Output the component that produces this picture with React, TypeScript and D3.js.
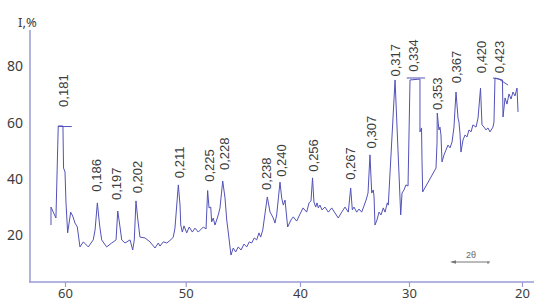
import { useEffect, useRef } from "react";
import * as d3 from "d3";

const width = 534;
const height = 302;
const axisLeftX = 30;
const axisBottomY = 282;
const axisTopY = 30;

// diffraction pattern, 2θ (deg) and relative intensity I (%)
const twoTheta = [
  61.16, 61.16, 60.75, 60.56, 60.17, 60.12, 60.0, 59.92, 59.78, 59.53, 59.36, 59.17, 58.98, 58.76, 58.48,
  58.07, 57.66, 57.51, 57.32, 57.16, 57.1, 56.96, 56.55, 56.13, 55.77, 55.63, 55.5, 55.3, 55.03, 54.61,
  54.39, 54.26, 54.12, 53.98, 53.79, 53.37, 52.96, 52.54, 52.27, 52.13, 51.86, 51.57, 51.24, 51.03, 50.89,
  50.61, 50.47, 50.41, 50.28, 50.14, 49.91, 49.69, 49.42, 49.19, 48.9, 48.46, 48.22, 48.08, 47.96, 47.81,
  47.73, 47.59, 47.44, 47.29, 47.15, 47.0, 46.76, 46.56, 46.41, 46.27, 46.04, 45.84, 45.63, 45.4, 45.16,
  44.9, 44.66, 44.44, 44.23, 44.0, 43.79, 43.59, 43.44, 43.26, 42.86, 42.62, 42.48, 42.34, 42.19, 42.04,
  41.75, 41.6, 41.46, 41.31, 41.08, 40.79, 40.59, 40.29, 40.0, 39.72, 39.39, 39.17, 38.99, 38.85, 38.72,
  38.56, 38.44, 38.32, 38.17, 37.98, 37.71, 37.4, 37.09, 36.79, 36.49, 36.17, 35.87, 35.57, 35.35, 35.2,
  35.05, 34.8, 34.59, 34.34, 34.13, 33.94, 33.76, 33.58, 33.42, 33.28, 33.21, 33.12, 32.94, 32.75, 32.57,
  32.36, 32.2, 31.99, 31.9, 31.28, 30.76, 30.64, 30.46, 30.28, 30.09, 29.91, 29.03, 29.03, 28.89, 28.85,
  28.79, 27.61, 27.52, 27.5, 27.35, 27.26, 27.17, 27.08, 26.9, 26.73, 26.55, 26.37, 26.19, 26.02, 25.84,
  25.66, 25.58, 25.49, 25.4, 25.22, 25.04, 24.87, 24.69, 24.51, 24.34, 24.07, 23.89, 23.67, 23.54, 23.36,
  23.19, 23.01, 22.83, 22.57, 22.48, 22.39, 21.73, 21.68, 21.5, 21.33, 21.15, 20.97, 20.8, 20.62, 20.44,
  20.35,
];

const intensity = [
  23.5, 29.9, 26.0, 58.8, 58.8, 43.8, 42.4, 31.7, 20.7, 28.1, 26.7, 24.2, 22.8, 15.7, 17.5,
  15.7, 18.2, 21.7, 31.4, 24.6, 22.4, 18.2, 15.7, 17.1, 18.2, 28.5, 24.6, 18.2, 17.1, 18.2,
  14.6, 18.2, 32.1, 26.0, 19.2, 18.9, 17.5, 15.3, 17.1, 16.0, 17.5, 17.1, 18.2, 19.2, 22.4,
  37.8, 30.6, 23.5, 21.0, 23.2, 20.7, 22.8, 21.0, 22.4, 21.0, 22.8, 22.1, 35.8, 29.6, 29.9,
  24.6, 26.0, 23.5, 25.3, 27.1, 29.6, 39.2, 33.1, 25.3, 20.7, 12.8, 15.3, 13.9, 15.7, 14.6,
  16.7, 15.7, 17.5, 17.1, 18.9, 18.2, 20.7, 19.2, 21.7, 33.5, 28.1, 27.1, 26.0, 24.2, 27.1,
  38.8, 33.1, 30.6, 32.4, 22.8, 25.3, 26.4, 24.9, 27.4, 29.6, 28.1, 31.4, 32.1, 40.3, 31.7,
  29.9, 31.4, 29.6, 30.6, 28.9, 29.9, 28.1, 29.6, 27.8, 26.0, 28.1, 29.9, 28.1, 36.7, 28.9,
  29.9, 28.1, 29.2, 28.1, 30.3, 32.4, 34.9, 48.5, 34.9, 36.0, 33.8, 23.5, 25.3, 28.1, 27.1,
  29.6, 28.1, 31.4, 30.6, 75.2, 27.1, 34.9, 36.0, 37.8, 37.4, 75.2, 75.5, 56.7, 58.1, 46.7,
  35.3, 43.8, 52.7, 63.4, 57.4, 58.4, 55.6, 46.0, 48.5, 50.2, 52.0, 51.0, 53.1, 58.4, 70.9,
  61.6, 60.2, 56.3, 49.5, 53.8, 55.6, 54.9, 57.4, 56.7, 59.2, 58.4, 61.6, 72.3, 59.2, 58.4,
  57.4, 58.1, 56.7, 58.4, 60.2, 75.9, 75.2, 62.0, 68.8, 66.6, 70.2, 68.4, 70.9, 69.5, 72.3,
  63.8,
];

// off-scale peak markers (bars over truncated peaks)
const caps = [
  { twoTheta: [60.56, 59.44], intensity: [58.6, 58.6] },
  { twoTheta: [30.21, 28.58], intensity: [75.9, 75.9] },
  { twoTheta: [22.57, 22.04, 21.24], intensity: [75.9, 75.5, 73.4] },
];

// interplanar spacings d (nm) written above peaks
const dLabels = ["0,181", "0,186", "0,197", "0,202", "0,211", "0,225", "0,228", "0,238", "0,240",
  "0,256", "0,267", "0,307", "0,317", "0,334", "0,353", "0,367", "0,420", "0,423"];
const dTwoTheta = [60.17, 57.37, 55.72, 53.99, 50.56, 47.96, 46.65, 42.91, 41.6,
  38.78, 35.34, 33.42, 31.28, 29.65, 27.48, 25.84, 23.57, 22.04];
const dLevel = [65.6, 35.4, 32.4, 34.8, 40.2, 38.9, 43.1, 36.0, 40.7,
  42.5, 39.6, 50.8, 76.4, 78.1, 64.5, 74.0, 77.6, 77.6];

const xTicks = [60, 50, 40, 30, 20];
const yTicks = [80, 60, 40, 20];

const lineColor = "#5252b8";
const axisColor = "#9a9ad6";
const textColor = "#3c3c3c";

// the printed 2θ axis is slightly uneven, so map tick by tick
const xScale = d3.scaleLinear().domain(xTicks).range([65, 185.7, 300, 409, 522]);
const yScale = d3.scaleLinear().domain([3.2, 93]).range([axisBottomY, axisTopY]);

export default function App() {
  const xAxisRef = useRef<SVGGElement>(null);
  const yAxisRef = useRef<SVGGElement>(null);

  const line = d3
    .line<number>()
    .x((_, i) => xScale(twoTheta[i]))
    .y((_, i) => yScale(intensity[i]));

  useEffect(() => {
    const xAxis = d3.axisBottom(xScale).tickValues(xTicks).tickSize(5).tickPadding(2).tickFormat(d3.format("d"));
    const gx = d3.select(xAxisRef.current!).call(xAxis);
    gx.select(".domain").remove();
    gx.selectAll(".tick line").attr("stroke", axisColor).attr("stroke-width", 1.2);
    gx.selectAll(".tick text")
      .attr("fill", textColor)
      .attr("font-size", 13)
      .attr("font-family", "'Noto Sans', sans-serif");

    const yAxis = d3.axisLeft(yScale).tickValues(yTicks).tickSize(0).tickPadding(7);
    const gy = d3.select(yAxisRef.current!).call(yAxis);
    gy.select(".domain").remove();
    gy.selectAll(".tick text")
      .attr("fill", textColor)
      .attr("font-size", 14)
      .attr("font-family", "'Noto Sans', sans-serif");
  }, []);

  return (
    <div style={{ position: "absolute", left: 0, top: 0 }}>
      <svg width={width} height={height} viewBox={`0 0 ${width} ${height}`} style={{ display: "block", background: "#fff" }}>
        <line x1={axisLeftX} x2={axisLeftX} y1={axisTopY} y2={axisBottomY} stroke={axisColor} strokeWidth={1.5} />
        <line x1={axisLeftX - 1} x2={width} y1={axisBottomY} y2={axisBottomY} stroke={axisColor} strokeWidth={1.5} />
        <g ref={xAxisRef} transform={`translate(0,${axisBottomY})`} />
        <g ref={yAxisRef} transform={`translate(${axisLeftX},0)`} />
        <text x={18} y={27} fill={textColor} fontSize={13} fontFamily="'Noto Sans', sans-serif">I,%</text>

        <path d={line(intensity) ?? ""} fill="none" stroke={lineColor} strokeWidth={1} strokeLinejoin="round" />
        {caps.map((c, k) => (
          <path
            key={k}
            d={
              d3
                .line<number>()
                .x((_, i) => xScale(c.twoTheta[i]))
                .y((_, i) => yScale(c.intensity[i]))(c.intensity) ?? ""
            }
            fill="none"
            stroke={lineColor}
            strokeWidth={1}
          />
        ))}

        {dLabels.map((t, i) => {
          const x = xScale(dTwoTheta[i]);
          const y = yScale(dLevel[i]);
          return (
            <text
              key={t}
              transform={`translate(${x},${y}) rotate(-90)`}
              dy="0.36em"
              fill={textColor}
              fontSize={13}
              fontFamily="'Liberation Sans', Arial, sans-serif"
            >
              {t}
            </text>
          );
        })}

        <g>
          <text x={471} y={258} textAnchor="middle" fill="#666" fontSize={9} fontFamily="'Liberation Sans', Arial, sans-serif">
            2θ
          </text>
          <line x1={452} x2={490} y1={262} y2={262} stroke="#777" strokeWidth={1} />
          <path d="M450,262 L456,260.3 L456,263.7 Z" fill="#777" />
          <line x1={488} x2={488} y1={261} y2={264} stroke="#777" strokeWidth={1} />
        </g>
      </svg>
    </div>
  );
}
